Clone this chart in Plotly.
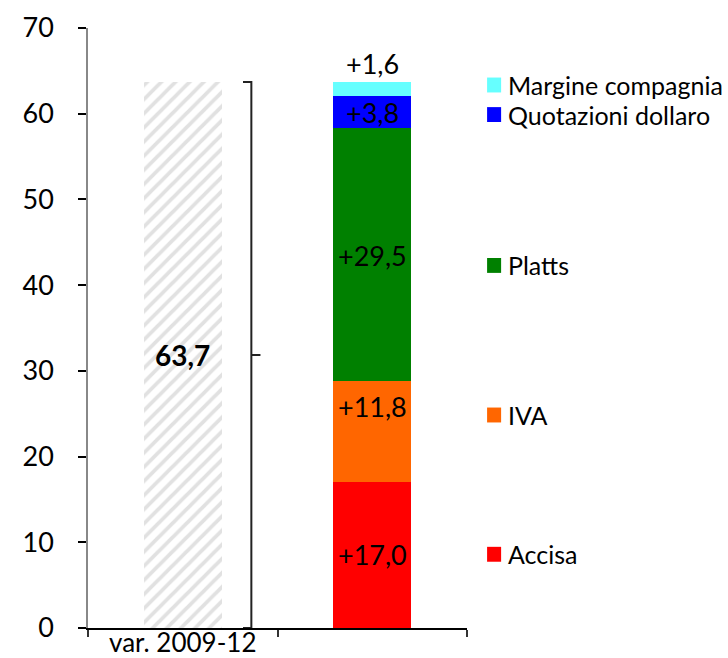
import plotly.graph_objects as go

# ---- data ----
categories = ["var. 2009-12", " "]
components = ["Accisa", "IVA", "Platts", "Quotazioni dollaro", "Margine compagnia"]
values = [17.0, 11.8, 29.5, 3.8, 1.6]
colors = ["#FF0000", "#FF6600", "#008000", "#0000FF", "#66FFFF"]
label_y = [8.6, 25.9, 43.5, 60.1, 65.9]      # where the value labels sit
legend_y = [8.6, 24.85, 42.3, 59.9, 63.35]   # where the side legend entries sit
total = round(sum(values), 1)
y_ticks = [0, 10, 20, 30, 40, 50, 60, 70]

FONT = "Lato"
BW = 0.41

fig = go.Figure()

# hatched total bar
fig.add_trace(go.Bar(
    x=[categories[0]], y=[total], width=BW, showlegend=False,
    marker=dict(color="white", line=dict(width=0),
                pattern=dict(shape="/", size=10, solidity=0.38,
                             fgcolor="#c4c4c4", bgcolor="white")),
    hoverinfo="skip",
))

# stacked components
for name, v, c in zip(components, values, colors):
    fig.add_trace(go.Bar(
        x=[categories[1]], y=[v], width=BW, name=name, showlegend=False,
        marker=dict(color=c, line=dict(width=0)),
    ))

annotations = []
shapes = []

def fmt(v):
    return ("+%.1f" % v).replace(".", ",")

for v, ly in zip(values, label_y):
    annotations.append(dict(x=categories[1], y=ly, xref="x", yref="y", text=fmt(v),
                            showarrow=False, font=dict(family=FONT, size=27, color="black"),
                            xanchor="center", yanchor="middle"))

annotations.append(dict(x=categories[0], y=total / 2, xref="x", yref="y",
                        text="<b>" + ("%.1f" % total).replace(".", ",") + "</b>",
                        showarrow=False, font=dict(family=FONT, size=28, color="black"),
                        xanchor="center", yanchor="middle"))

# side legend
for name, c, ly in zip(components, colors, legend_y):
    shapes.append(dict(type="rect", xref="paper", yref="y",
                       x0=1.053, x1=1.090, y0=ly - 0.87, y1=ly + 0.87,
                       fillcolor=c, line=dict(width=0)))
    annotations.append(dict(x=1.103, y=ly, xref="paper", yref="y", text=name,
                            showarrow=False, xanchor="left", yanchor="middle",
                            font=dict(family=FONT, size=25, color="black")))

# brace
xl, xr, xt = 0.318, 0.362, 0.410
shapes.append(dict(type="path", xref="x", yref="y",
                   path=f"M {xl},{total} L {xr},{total} L {xr},0 L {xl},0 M {xr},{total/2} L {xt},{total/2}",
                   line=dict(color="#222222", width=2)))

fig.update_layout(
    width=728, height=658,
    margin=dict(l=88, r=261, t=28, b=30, autoexpand=False),
    plot_bgcolor="white", paper_bgcolor="white",
    barmode="stack",
    font=dict(family=FONT, size=27, color="black"),
    annotations=annotations, shapes=shapes,
    xaxis=dict(type="category", categoryorder="array", categoryarray=categories,
               tickson="boundaries", ticks="outside", ticklen=7, tickwidth=1.5,
               tickcolor="#333333", showline=True, linecolor="black", linewidth=1.5,
               showgrid=False, range=[-0.5, 1.5], tickfont=dict(family=FONT, size=26),
               zeroline=False, automargin=False, ticklabelstandoff=-9),
    yaxis=dict(range=[0, 70], tickvals=y_ticks, ticks="outside", ticklen=8, tickwidth=1.5,
               tickcolor="black", showline=True, linecolor="#888888", linewidth=1.5,
               showgrid=False, zeroline=False, ticklabelstandoff=19,
               tickfont=dict(family=FONT, size=27), automargin=False),
)

fig.write_html("out.html",
               config={"displayModeBar": False},
               post_script="document.body.style.margin='0px';document.body.style.overflow='hidden';")
